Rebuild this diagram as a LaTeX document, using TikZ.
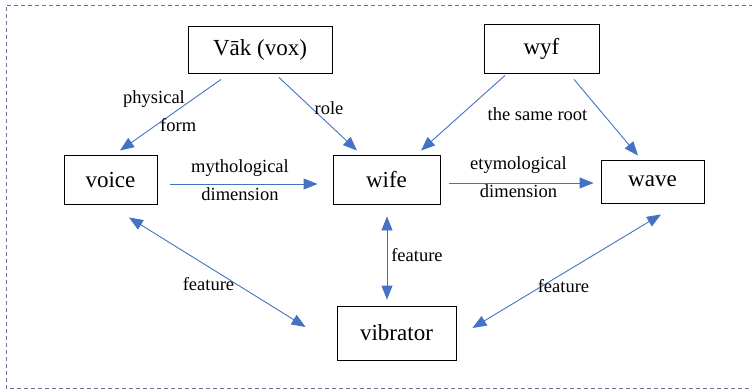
\documentclass[tikz,border=0pt]{standalone}
\usepackage{fontspec}
\setmainfont{Liberation Serif}
\usetikzlibrary{arrows.meta,calc}
\definecolor{arrblue}{RGB}{68,114,196}
\definecolor{framec}{RGB}{100,115,150}
\begin{document}
\begin{tikzpicture}[x=1pt,y=-1pt,
  box/.style={draw=black, line width=0.9pt, inner sep=0pt, font=\fontsize{23}{27}\selectfont},
  lbl/.style={inner sep=0pt, font=\fontsize{18.5}{28}\selectfont, align=center},
  arr/.style={draw=arrblue, line width=0.9pt, -{Triangle[length=14pt,width=11pt]}},
  darr/.style={draw=arrblue, line width=0.9pt, {Triangle[length=14pt,width=11pt]}-{Triangle[length=14pt,width=11pt]}},
  frame/.style={draw=framec, line width=0.9pt, dash pattern=on 4pt off 3pt}]
\useasboundingbox (0,0) rectangle (752,390);
\draw[frame] (760,5) -- (6,5) -- (6,388) -- (760,388);

\node[box, minimum width=144pt, minimum height=47pt] (vak) at (260,49.5) {Vāk (vox)};
\node[box, minimum width=115pt, minimum height=49pt] (wyf) at (541.5,48.5) {wyf};
\node[box, minimum width=93pt, minimum height=49pt] (voice) at (110.5,179.5) {voice};
\node[box, minimum width=107pt, minimum height=49pt] (wife) at (386.5,179.5) {wife};
\node[box, minimum width=103pt, minimum height=43pt] (wave) at (652.5,181.5) {wave};
\node[box, minimum width=119pt, minimum height=54pt] (vib) at (396.5,333) {vibrator};

\draw[arr] ($(vak.south)+(-39,6)$) -- ($(voice.north)+(9.5,-4)$);
\draw[arr] ($(vak.south)+(19,4)$) -- ($(wife.north)+(-29.5,-4)$);
\draw[arr] ($(wyf.south)+(-36.5,2)$) -- ($(wife.north)+(34.5,-4)$);
\draw[arr] ($(wyf.south)+(32.5,6)$) -- ($(wave.north)+(-14.5,-4)$);
\draw[arr] ($(voice.east)+(13,4.5)$) -- ($(wife.west)+(-15,4.5)$);
\draw[arr] ($(wife.east)+(9,3.5)$) -- ($(wave.west)+(-7,1.5)$);
\draw[darr] ($(voice.south)+(18.5,13)$) -- ($(vib.west)+(-31,-6)$);
\draw[darr] ($(wife.south)+(0.5,12)$) -- ($(vib.north)+(-9.5,-6)$);
\draw[darr] ($(wave.south)+(8.5,11)$) -- ($(vib.east)+(16,-5)$);

\node[lbl, anchor=west, align=left] (lphys) at (123,111) {physical\\\hspace*{37pt}form};
\node[lbl] (lrole) at (329,108) {role};
\node[lbl] (lmyth) at (240,180.5) {mythological\\dimension};
\node[lbl] (lroot) at (537.5,114) {the same root};
\node[lbl] (letym) at (518.5,177.5) {etymological\\dimension};
\node[lbl] (lf1) at (208.5,284) {feature};
\node[lbl] (lf2) at (417,255) {feature};
\node[lbl] (lf3) at (563.5,286) {feature};
\end{tikzpicture}
\end{document}
